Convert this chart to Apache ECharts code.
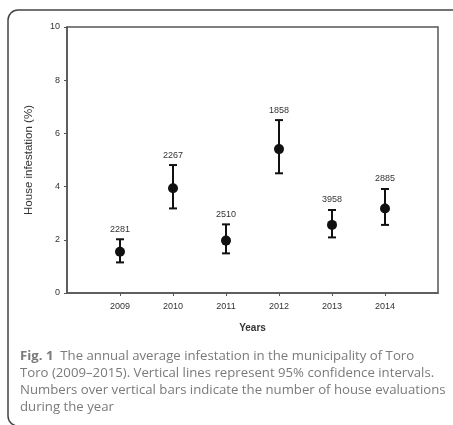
<!DOCTYPE html>
<html><head><meta charset="utf-8">
<script src="https://cdn.jsdelivr.net/npm/echarts@6/dist/echarts.min.js"></script>
<style>html,body{margin:0;padding:0;background:#fff}#c{width:453px;height:425px}</style>
</head><body><div id="c"></div>
<script>
const axisCategories = ['2008','2009','2010','2011','2012','2013','2014','2015'];
const years = ['2009','2010','2011','2012','2013','2014'];
const meanValues = [1.55, 3.94, 1.97, 5.41, 2.56, 3.18];
const lowerCI = [1.15, 3.18, 1.49, 4.50, 2.09, 2.56];
const upperCI = [2.02, 4.81, 2.58, 6.50, 3.12, 3.91];
const evaluations = [2281, 2267, 2510, 1858, 3958, 2885];
const yTicks = [0, 2, 4, 6, 8, 10];
const captionLines = [
  'The annual average infestation in the municipality of Toro',
  'Toro (2009\u20132015). Vertical lines represent 95% confidence intervals.',
  'Numbers over vertical bars indicate the number of house evaluations',
  'during the year'
];

const chart = echarts.init(document.getElementById('c'));
const errData = years.map((y, i) => [y, lowerCI[i], upperCI[i], evaluations[i]]);
const ptData = years.map((y, i) => [y, meanValues[i]]);
const capFont = {fontFamily: 'Open Sans', fontSize: 13.2, fill: '#7a7a7a'};

chart.setOption({
  animation: false,
  grid: {left: 67, top: 27, right: 15, bottom: 132, show: true, borderColor: '#555', borderWidth: 1.5, backgroundColor: 'transparent'},
  xAxis: {
    type: 'category', data: axisCategories, boundaryGap: false,
    name: 'Years', nameLocation: 'middle', nameGap: 30,
    nameTextStyle: {fontFamily: 'Liberation Sans', fontSize: 10, fontWeight: 'bold', color: '#333'},
    axisLine: {lineStyle: {color: '#555', width: 1.5}},
    axisTick: {length: 3, lineStyle: {color: '#555'}, interval: (i) => i > 0 && i < axisCategories.length - 1},
    axisLabel: {fontFamily: 'Liberation Sans', fontSize: 9, color: '#333', margin: 9,
      interval: (i) => i > 0 && i < axisCategories.length - 1},
    splitLine: {show: false}
  },
  yAxis: {
    type: 'value', min: yTicks[0], max: yTicks[yTicks.length - 1], interval: 2,
    name: 'House infestation (%)', nameLocation: 'middle', nameGap: 32,
    nameTextStyle: {fontFamily: 'Liberation Sans', fontSize: 11.5, color: '#333'},
    axisLine: {show: true, lineStyle: {color: '#555', width: 1.5}},
    axisTick: {show: true, length: 3, lineStyle: {color: '#555'}},
    axisLabel: {fontFamily: 'Liberation Sans', fontSize: 9, color: '#333', margin: 7},
    splitLine: {show: false}
  },
  series: [
    {
      type: 'custom', data: errData, encode: {x: 0, y: [1, 2]}, z: 2,
      renderItem: function (params, api) {
        const x = api.value(0);
        const lo = api.coord([x, api.value(1)]);
        const hi = api.coord([x, api.value(2)]);
        const w = 4;
        const st = {stroke: '#111', lineWidth: 2};
        return {type: 'group', children: [
          {type: 'line', shape: {x1: lo[0], y1: lo[1], x2: hi[0], y2: hi[1]}, style: st},
          {type: 'line', shape: {x1: hi[0] - w, y1: hi[1], x2: hi[0] + w, y2: hi[1]}, style: st},
          {type: 'line', shape: {x1: lo[0] - w, y1: lo[1], x2: lo[0] + w, y2: lo[1]}, style: st},
          {type: 'text', x: hi[0], y: hi[1] - 10, style: {text: String(api.value(3)), fontFamily: 'Liberation Sans', fontSize: 9, fill: '#333', align: 'center', verticalAlign: 'middle'}}
        ]};
      }
    },
    {
      type: 'scatter', data: ptData, symbol: 'circle', symbolSize: 10, z: 3,
      itemStyle: {color: '#111', opacity: 1}
    }
  ],
  graphic: [
    {type: 'rect', shape: {x: 8, y: 10, width: 470, height: 416, r: 10}, style: {fill: 'none', stroke: '#444', lineWidth: 1.5}, silent: true},
    {type: 'text', left: 20, top: 350, style: {text: '{b|Fig. 1}  ' + captionLines[0], ...capFont,
      rich: {b: {fontFamily: 'Open Sans', fontSize: 13.2, fontWeight: 'bold', color: '#3a3a3a'}}}},
    {type: 'text', left: 20, top: 367, style: {text: captionLines[1], ...capFont}},
    {type: 'text', left: 20, top: 384, style: {text: captionLines[2], ...capFont}},
    {type: 'text', left: 20, top: 401, style: {text: captionLines[3], ...capFont}}
  ]
});
</script></body></html>
